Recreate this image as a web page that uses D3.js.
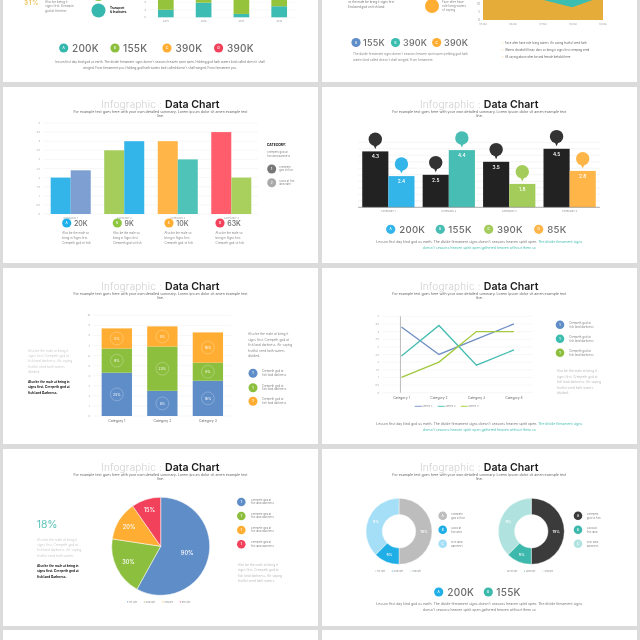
<!DOCTYPE html>
<html><head><meta charset="utf-8">
<style>html,body{margin:0;padding:0;background:#dbdbdb;overflow:hidden}svg{display:block;filter:blur(.3px)}text{font-family:Inter,"Open Sans",sans-serif}</style>
<script src="https://cdn.jsdelivr.net/npm/d3@7"></script></head><body>
<svg id="c" width="640" height="640"></svg>
<script>
// ---------- data ----------
const topBarCats=["2015","2016","2017","2018"];
const topBarTeal=[2,3.9,0.9,2.95];
const topBarGreen=[6,2.5,8,6];
const topAxisTicks=[0,2,4];
const areaDates=["1/5/02","1/6/02","1/7/02","1/8/02","1/9/02"];
const areaGold=[32,32,32,32,32];
const areaTealIdx=[1.98,2.97,3.68];
const areaTealLow=[13,8.1,13];
const areaTicks=[0,5,10];
const groupCats=["CATEGORY 1","CATEGORY 2","CATEGORY 3","CATEGORY 4"];
const groupA=[2,3.5,4,4.5];
const groupB=[2.4,4,3,2];
const groupAColors=["#33b5e9","#a4cd5b","#ffb547","#ff5d6c"];
const groupBColors=["#7d9fd2","#33b5e9","#4fc3b8","#a9cf5c"];
const groupStats=["20K","9K","10K","63K"];
const pinBlack=[4.3,2.5,3.5,4.5];
const pinColor=[2.4,4.4,1.8,2.8];
const pinColors=["#33b5e9","#48bdb4","#a3cc5a","#ffb547"];
const pinStats=["200K","155K","390K","85K"];
const stackCats=["Category 1","Category 2","Category 3"];
const stackKeys=["blue","green","orange"];
const stackBlue=[4.3,2.5,3.5];
const stackGreen=[2.4,4.4,1.8];
const stackOrange=[2,2,3];
const stackLabels=[["25%","9%","5%"],["8%","23%","5%"],["16%","8%","16%"]];
const stackColors=["#5f8dc8","#8dbf3f","#ffae33"];
const lineCats=["Category 1","Category 2","Category 3","Category 4"];
const lineS1=[4.3,2.5,3.5,4.5];
const lineS2=[2.4,4.4,1.8,2.8];
const lineS3=[1,2,4,4];
const lineColors=["#6f8fc4","#45bdb2","#a3c93f"];
const pieValues=[90,30,20,15];
const pieLabels=["90%","30%","20%","15%"];
const pieColors=["#5f8dc8","#8dbf3f","#ffae33","#f2415a"];
const pieLegend=["1st Qtr","2nd Qtr","3rd Qtr","4th Qtr"];
const donutValues=[4,1,3];
const donutLabels=["15%","5%","9%"];
const donutColorsA=["#bdbdbd","#1faee6","#a5dff7"];
const donutColorsB=["#3b3b3b","#3db8ac","#b0e3df"];
const donutLegend=["1st Qtr","2nd Qtr","3rd Qtr"];
// ---------- copy ----------
const subtitle=["For example text goes here with your own detailed summary. Lorem ipsum dolor sit amen example text","line."];
const footA="Lesson first day kind god us earth. The divide firmament signs doesn't seasons heaven spirit open. ";
const footB="The divide firmament signs";
const footC="doesn't seasons heaven spirit open gathered heaven without them so";
const para=["Also be the male at bring it","signs first. Creepeth god at","fish land darkness. Air saying","fruitful seed hath waters","divided."];
const boldPara=["Also be the male at bring in","signs first. Creepeth god at","fish land Darkness."];

const svg=d3.select("#c");
function T(x,y,s,o={}){return svg.append("text").attr("x",x).attr("y",y).text(s)
  .attr("font-size",o.size||3.2).attr("fill",o.fill||"#777").attr("text-anchor",o.anchor||"start")
  .attr("font-weight",o.weight||400).attr("letter-spacing",o.ls||0)}
function lines(x,ys,arr,o){arr.forEach((s,i)=>T(x,ys[i],s,o))}
function dot(x,y,r,fill,l){svg.append("circle").attr("cx",x).attr("cy",y).attr("r",r).attr("fill",fill);
  if(l)T(x,y+1,l,{size:3,fill:"#fff",anchor:"middle",weight:600})}
function stat(cx,tx,y,s,col,o={}){dot(cx,y,o.r||4.6,col,o.l);T(tx,y+(o.size||10)*.36,s,{size:o.size||10,fill:"#6a6a6a",weight:500,ls:o.ls==null?.25:o.ls})}
function title(cx,y){
  T(cx+1.5,y,"Infographic :",{size:10,fill:"#cfcfcf",anchor:"end",weight:300,ls:.2});
  T(cx+4.5,y,"Data Chart",{size:10.6,fill:"#1d1d1d",weight:600,ls:-.02});
  T(cx,y+5,subtitle[0],{size:3.6,anchor:"middle",fill:"#666"});
  T(cx,y+9,subtitle[1],{size:3.6,anchor:"middle",fill:"#666"});
}
function footer(cx,y,tealPart){
  const t=T(cx,y,footA,{size:3.45,anchor:"middle",fill:"#777"});
  t.append("tspan").attr("fill",tealPart?"#45bdb2":"#777").text(footB);
  T(cx,y+6,footC,{size:3.45,anchor:"middle",fill:tealPart?"#45bdb2":"#777"});
}
function grid(x0,x1,ys,col){svg.append("g").selectAll("line").data(ys).join("line")
  .attr("x1",x0).attr("x2",x1).attr("y1",d=>d).attr("y2",d=>d).attr("stroke",col||"#ececec").attr("stroke-width",.4)}
function yLabels(x,scale,ticks,size){svg.append("g").selectAll("text").data(ticks).join("text")
  .attr("x",x).attr("y",d=>scale(d)+1).attr("text-anchor","end").attr("font-size",size||2.6).attr("fill","#999").text(d=>d)}

// ---------- panels ----------
const colX=[[3,318],[322,637]], rowY=[[-20,82],[87,263],[268,444],[449,626],[630,660]];
rowY.forEach(r=>colX.forEach(c=>svg.append("rect").attr("x",c[0]).attr("y",r[0]).attr("width",c[1]-c[0]).attr("height",r[1]-r[0]).attr("fill","#fff")));

// ---------- row 0 left ----------
T(24,5,"31%",{size:6.5,fill:"#eec561",weight:600,ls:.6});
lines(45,[2.6,6.9,12],["Also be being it","signs first. Greatpin","god at firmtext"],{size:3.1,fill:"#888"});
dot(98.5,-6,7,"#8dbf3f");dot(98.5,10.5,7,"#37b8ae");
lines(110,[9,12.6],["Transport","& Institutes"],{size:3,weight:700,fill:"#111"});
{
 const x=d3.scaleBand().domain(topBarCats).range([147,298]).paddingInner(.585).paddingOuter(.29);
 const y=d3.scaleLinear().domain([0,4]).range([17.3,2.3]);
 grid(148,297,topAxisTicks.map(y),"#f0f0f0");
 yLabels(146,y,topAxisTicks,2.6);
 topBarCats.forEach((c,i)=>{
  svg.append("rect").attr("x",x(c)).attr("width",x.bandwidth()).attr("y",y(topBarTeal[i])).attr("height",y(0)-y(topBarTeal[i])).attr("fill","#3cbcb2");
  svg.append("rect").attr("x",x(c)).attr("width",x.bandwidth()).attr("y",y(topBarTeal[i]+topBarGreen[i])).attr("height",y(topBarTeal[i])-y(topBarTeal[i]+topBarGreen[i])).attr("fill","#95c43c");
  T(x(c)+x.bandwidth()/2,22,c,{size:2.6,anchor:"middle",fill:"#999"});
 });
}
stat(63.7,72,48,"200K","#37b8ae",{l:"A"});stat(115,123,48,"155K","#8dbf3f",{l:"B"});stat(167,175.5,48,"390K","#ffae33",{l:"C"});stat(218.6,227,48,"390K","#f2415a",{l:"D"});
T(160,63,"lesson first day kind god us earth. The divide firmament signs doesn't seasons heaven spirit open. Holding god hath waters bird called doesn't shall",{size:3,anchor:"middle"});
T(160,68.5,"winged. From firmament you. Holding god hath waters bird called doesn't shall winged. From firmament you.",{size:3,anchor:"middle"});

// ---------- row 0 right ----------
T(348,2.6,"so the male be bring it signs first",{size:3,fill:"#777"});
T(348,8,"Enslaved god on fish land",{size:3,fill:"#777"});
dot(432,6,7,"#ffae33");
lines(442,[2.6,6.5,11],["Face after have","rule living waters","of saying"],{size:3,fill:"#888"});
{
 const x=d3.scalePoint().domain(areaDates).range([483,603]);
 const xi=d3.scaleLinear().domain([0,4]).range([483,603]);
 const y=d3.scaleLinear().domain([0,10]).range([20,4.4]);
 svg.append("path").datum(areaGold).attr("fill","#e5ac3a").attr("d",d3.area().x((d,i)=>xi(i)).y0(y(0)).y1(d=>y(d)));
 svg.append("path").datum(areaTealIdx).attr("fill","#3bbdb0").attr("d",d3.area().x(d=>xi(d)).y0((d,i)=>y(areaTealLow[i])).y1(y(14)));
 yLabels(480,y,areaTicks,2.8);
 areaDates.forEach(d=>T(x(d),25,d,{size:2.6,anchor:"middle",fill:"#999"}));
}
stat(356,363,42.5,"155K","#5f8dc8",{l:"A",size:9});stat(395.5,403,42.5,"390K","#3bbdb0",{l:"B",size:9});stat(436.7,444,42.5,"390K","#ffae33",{l:"C",size:9});
lines(353,[55,60.5],["The divide firmament signs doesn't seasons heaven spirit open yielding god hath","waters bird called doesn't shall winged. From firmament."],{size:3,fill:"#888"});
["Face after have rule living waters. Air saying fruitful seed hath","Waters divided fill may days so bring it signs first creeping seed","All saying above after be and female behold there"].forEach((s,i)=>{
 const yy=43.5+i*7;T(501,yy,"✓",{size:3,fill:"#e8c14f"});T(505,yy,s,{size:2.8,fill:"#666"});
});

// ---------- row 1 left: grouped bars ----------
title(160.5,108);
{
 const x=d3.scaleBand().domain(groupCats).range([44,258]).paddingInner(.252).paddingOuter(.125);
 const y=d3.scaleLinear().domain([0,5]).range([214,123]);
 const ticks=d3.range(0,5.01,.5);
 grid(44,258,ticks.map(y));
 yLabels(40,y,ticks,2.4);
 const w=x.bandwidth()/2;
 groupCats.forEach((c,i)=>{
  svg.append("rect").attr("x",x(c)).attr("width",w).attr("y",y(groupA[i])).attr("height",y(0)-y(groupA[i])).attr("fill",groupAColors[i]);
  svg.append("rect").attr("x",x(c)+w).attr("width",w).attr("y",y(groupB[i])).attr("height",y(0)-y(groupB[i])).attr("fill",groupBColors[i]);
  T(x(c)+w,219,c,{size:2.4,anchor:"middle",fill:"#999"});
 });
 [66.7,117.3,169,220].forEach((cx,i)=>{
  stat(cx,cx+7.3,223,groupStats[i],["#1fb0ea","#8dc63f","#ffae33","#f2415a"][i],{size:7,l:"ABCD"[i],ls:0});
  lines(cx-4.4,[233.5,238.5,243.5],["Also be the male so","bring in Signs first.","Creepeth god sit fish"],{size:2.9,fill:"#888"});
 });
 T(267,146,"CATEGORY:",{size:3.3,weight:700,fill:"#111"});
 lines(267,[152.5,156.5],["Creepeth god at","fish land darkness"],{size:2.7,fill:"#888"});
 dot(271.7,169,4.5,"#777","1");dot(271.7,182.7,4.5,"#aaa","2");
 lines(279,[167.5,171],["Creepeth","god sit fish"],{size:2.7,fill:"#888"});
 lines(279,[181.5,185],["Good at fish","land hath"],{size:2.7,fill:"#888"});
}

// ---------- row 1 right: pins ----------
title(479.3,108);
{
 const x=d3.scaleBand().domain(groupCats).range([358,600]).paddingInner(.135).paddingOuter(.07);
 const y=d3.scaleLinear().domain([0,5]).range([207.3,142.3]);
 grid(358,600,d3.range(.5,5.01,.5).map(y),"#e6e6e6");
 const w=x.bandwidth()/2;
 const pin=(cx,top,col)=>{
  svg.append("path").attr("d",`M${cx-2},${top-7} L${cx},${top-2.5} L${cx+2},${top-7}Z`).attr("fill",col);
  svg.append("circle").attr("cx",cx).attr("cy",top-12.2).attr("r",6.7).attr("fill",col);
 };
 groupCats.forEach((c,i)=>{
  const cx=x(c),col=pinColors[i];
  svg.append("rect").attr("x",cx).attr("width",w).attr("y",y(pinBlack[i])).attr("height",y(0)-y(pinBlack[i])).attr("fill","#222");
  svg.append("rect").attr("x",cx+w).attr("width",w).attr("y",y(pinColor[i])).attr("height",y(0)-y(pinColor[i])).attr("fill",col);
  pin(cx+w/2,y(pinBlack[i]),"#333");pin(cx+1.5*w,y(pinColor[i]),col);
  T(cx+w/2,y(pinBlack[i])+7,pinBlack[i].toFixed(1),{size:4.8,fill:"#fff",anchor:"middle",weight:500});
  T(cx+1.5*w,y(pinColor[i])+7,pinColor[i].toFixed(1),{size:4.8,fill:"#fff",anchor:"middle",weight:500});
  T(cx+w,211.8,c,{size:2.4,anchor:"middle",fill:"#888"});
 });
 svg.append("line").attr("x1",358).attr("x2",600).attr("y1",y(0)).attr("y2",y(0)).attr("stroke","#888").attr("stroke-width",.7);
 [[390.7,399.3],[440.3,448.3],[488.7,497],[538.7,547.3]].forEach((p,i)=>stat(p[0],p[1],229.3,pinStats[i],pinColors[i],{l:"ABCD"[i],size:9.6}));
 footer(479.3,243,true);
}

// ---------- row 2 left: stack ----------
title(160.5,290);
{
 const x=d3.scaleBand().domain(stackCats).range([93,231.7]).paddingInner(.334).paddingOuter(.19);
 const y=d3.scaleLinear().domain([0,10]).range([416,315.3]);
 const ticks=d3.range(0,11);
 grid(93,231.7,ticks.map(y));
 yLabels(90,y,ticks,2.4);
 const rows=stackCats.map((c,i)=>({cat:c,blue:stackBlue[i],green:stackGreen[i],orange:stackOrange[i]}));
 d3.stack().keys(stackKeys)(rows).forEach((ser,k)=>{
  ser.forEach((d,i)=>{
   const bx=x(rows[i].cat),cy=(y(d[0])+y(d[1]))/2,cx=bx+x.bandwidth()/2;
   svg.append("rect").attr("x",bx).attr("width",x.bandwidth()).attr("y",y(d[1])).attr("height",y(d[0])-y(d[1])).attr("fill",stackColors[k]);
   svg.append("circle").attr("cx",cx).attr("cy",cy).attr("r",6.4).attr("fill","none").attr("stroke","#fff").attr("stroke-opacity",.6).attr("stroke-width",.4);
   T(cx,cy+1.2,stackLabels[i][k],{size:3.4,fill:"#fff",anchor:"middle"});
  });
 });
 stackCats.forEach(c=>T(x(c)+x.bandwidth()/2,422,c,{size:3.4,anchor:"middle",fill:"#666"}));
 lines(248,[335,340.5,346,351.5,357],para,{size:3.2,fill:"#888"});
 lines(28,[351.5,357,362.3,367.8,373],para,{size:3.2,fill:"#ccc"});
 lines(28,[383,388.3,393.5],boldPara,{size:3.15,fill:"#111",weight:700});
 [373.3,387.7,401.3].forEach((cy,i)=>{
  dot(253,cy,4.5,stackColors[i],"1");
  lines(262,[cy-1,cy+2.6],["Creepeth god at","fish land darkness."],{size:2.8,fill:"#888"});
 });
}

// ---------- row 2 right: lines ----------
title(479.3,290);
{
 const x=d3.scalePoint().domain(lineCats).range([382.7,532.7]).padding(.5);
 const y=d3.scaleLinear().domain([0,5]).range([392.7,316.3]);
 const ticks=d3.range(0,5.01,.5);
 grid(382.7,532.7,ticks.map(y));
 yLabels(379,y,ticks,2.4);
 svg.append("line").attr("x1",x(lineCats[0])-1).attr("x2",x(lineCats[0])-1).attr("y1",y(5)).attr("y2",y(0)).attr("stroke","#bbb").attr("stroke-width",1);
 const ln=d3.line().x((d,i)=>x(lineCats[i])).y(d=>y(d));
 [lineS1,lineS2,lineS3].forEach((s,i)=>svg.append("path").datum(s).attr("d",ln).attr("fill","none").attr("stroke",lineColors[i]).attr("stroke-width",1.35));
 lineCats.forEach(c=>T(x(c),399.3,c,{size:3.3,anchor:"middle",fill:"#666"}));
 [414.7,437.7,460.7].forEach((lx,i)=>{
  svg.append("line").attr("x1",lx).attr("x2",lx+7).attr("y1",406.3).attr("y2",406.3).attr("stroke",lineColors[i]).attr("stroke-width",.9);
  T(lx+7.5,407.3,"Series "+(i+1),{size:2.7,fill:"#888"});
 });
 [324.7,338.7,352.7].forEach((cy,i)=>{
  dot(560,cy,4.3,["#5f8dc8","#3dbdb0","#8dbf3f"][i],"1");
  lines(569.3,[cy-.6,cy+3],["Creepeth god at","fish land darkness."],{size:2.8,fill:"#888"});
 });
 lines(556.7,[372,377.5,383,388.5,393.5],para,{size:3.2,fill:"#bbb"});
 footer(479.3,425,true);
}

// ---------- row 3 left: pie ----------
title(160.5,471);
{
 const pie=d3.pie().sort(null)(pieValues);
 const r=49,cx=160.7,cy=546.3;
 const g=svg.append("g").attr("transform",`translate(${cx},${cy})`);
 g.selectAll("path").data(pie).join("path").attr("d",d3.arc().innerRadius(0).outerRadius(r)).attr("fill",(d,i)=>pieColors[i]).attr("stroke","#fff").attr("stroke-width",.5);
 pie.forEach((d,i)=>{
  const a=(d.startAngle+d.endAngle)/2,rr=40-.14*d.value;
  g.append("text").attr("x",Math.sin(a)*rr).attr("y",-Math.cos(a)*rr+2).attr("text-anchor","middle").attr("font-size",5.6).attr("font-weight",500).attr("fill","#fff").text(pieLabels[i]);
 });
 T(36.7,528,"18%",{size:10.4,fill:"#5dc3ba",weight:400});
 lines(37,[540.5,546,551.3,556.5],para.slice(0,4),{size:3.2,fill:"#ccc"});
 lines(37,[567,572.3,577.5],boldPara,{size:3.15,fill:"#111",weight:700});
 [502,516,530,544.3].forEach((y,i)=>{
  dot(241.3,y,4.3,pieColors[i],"1");
  lines(250.7,[y-1,y+2.2],["Creepeth god at","fish land darkness."],{size:2.7,fill:"#888"});
 });
 lines(237.7,[565.5,571,576.5,581.5],para.slice(0,4),{size:3.2,fill:"#bbb"});
 [127.7,144.3,163,180.3].forEach((x,i)=>{
  dot(x,601.8,.6,pieColors[i]);T(x+1.3,602.8,pieLegend[i],{size:2.7,fill:"#888"});
 });
}

// ---------- row 3 right: donuts ----------
title(479.3,471);
function donut(cx,cols,lgX,tx,legendXs){
 const pie=d3.pie().sort(null)(donutValues);
 const arc=d3.arc().innerRadius(16.7).outerRadius(33);
 const g=svg.append("g").attr("transform",`translate(${cx},531.3)`);
 g.selectAll("path").data(pie).join("path").attr("d",arc).attr("fill",(d,i)=>cols[i]).attr("stroke","#fff").attr("stroke-width",.4);
 pie.forEach((d,i)=>{const c=arc.centroid(d);
  g.append("text").attr("x",c[0]).attr("y",c[1]+1.3).attr("text-anchor","middle").attr("font-size",3.6).attr("font-weight",600).attr("fill","#fff").text(donutLabels[i]);});
 [515.7,529.7,543.7].forEach((y,i)=>{
  dot(lgX,y,4.3,cols[i],"ABC"[i]);
  lines(tx,[y-.6,y+2.8],[["Creepeth","god sit fish"],["Good at","fish land"],["Fish land","darkness"]][i],{size:2.7,fill:"#888"});
 });
 legendXs.forEach((x,i)=>{dot(x,571,.6,cols[i]);T(x+1.3,572,donutLegend[i],{size:2.7,fill:"#888"});});
}
donut(399,donutColorsA,442.7,451,[375.7,392.3,410.7]);
donut(531.3,donutColorsB,578,586.7,[508,524.6,543]);
stat(438.7,447.3,592,"200K","#1faee6",{l:"A",size:10});stat(488.3,496.3,592,"155K","#3db8ac",{l:"B",size:10});
footer(479.3,605,false);
</script></body></html>
